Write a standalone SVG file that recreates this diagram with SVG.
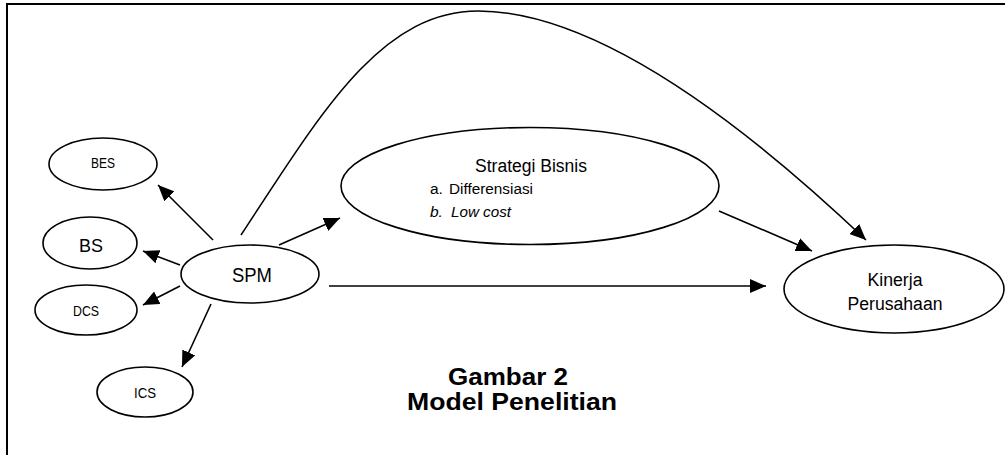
<svg xmlns="http://www.w3.org/2000/svg" width="1005" height="455" viewBox="0 0 1005 455">
<defs>
<style>
.n{fill:#fff;stroke:#000;stroke-width:1.6}
.t{font-family:"Liberation Sans",Arial,sans-serif;fill:#000;text-anchor:middle}
.c{fill:none;stroke:#000;stroke-width:1.6}
.a{marker-end:url(#ah)}
</style>
<marker id="ah" markerUnits="userSpaceOnUse" markerWidth="17" markerHeight="14" refX="16" refY="7" orient="auto" viewBox="0 0 17 14">
<path d="M0,0 L16,7 L0,14 z" fill="#000"/>
</marker>
</defs>
<rect width="1005" height="455" fill="#fff"/>
<path d="M7,455 V4 H1005" fill="none" stroke="#000" stroke-width="2"/>
<g id="connectors">
<path class="c a" d="M213,240 L158,185"/>
<path class="c a" d="M180,265 L143,251"/>
<path class="c a" d="M180,286 L143,305"/>
<path class="c a" d="M211,304 L182,367"/>
<path class="c a" d="M279,245 L340,218"/>
<path class="c a" d="M329,286 L766,286"/>
<path class="c a" d="M719,211 L812,251"/>
<path class="c a" d="M241,235 C320,115 380,11 478,11 C600,11 750,130 866,240"/>
</g>
<g id="node-bes"><ellipse class="n" cx="103" cy="164" rx="54" ry="26"/><text class="t" x="103" y="168" font-size="14" textLength="24" lengthAdjust="spacingAndGlyphs">BES</text></g>
<g id="node-bs"><ellipse class="n" cx="90" cy="243" rx="47" ry="26"/><text class="t" x="91" y="252" font-size="18.5" textLength="24" lengthAdjust="spacingAndGlyphs">BS</text></g>
<g id="node-dcs"><ellipse class="n" cx="86" cy="310" rx="51" ry="25"/><text class="t" x="86" y="316" font-size="14" textLength="26" lengthAdjust="spacingAndGlyphs">DCS</text></g>
<g id="node-ics"><ellipse class="n" cx="145" cy="392" rx="48" ry="25"/><text class="t" x="145" y="398" font-size="14" textLength="22" lengthAdjust="spacingAndGlyphs">ICS</text></g>
<g id="node-spm"><ellipse class="n" cx="250" cy="274" rx="69" ry="29"/><text class="t" x="252" y="282" font-size="20" textLength="40" lengthAdjust="spacingAndGlyphs">SPM</text></g>
<g id="node-strategi"><ellipse class="n" cx="530" cy="186" rx="189" ry="58.5"/>
<text class="t" x="531" y="172" font-size="18" textLength="112" lengthAdjust="spacingAndGlyphs">Strategi Bisnis</text>
<text font-family="'Liberation Sans',Arial,sans-serif" font-size="15.5" y="194"><tspan x="430">a.</tspan><tspan x="449" textLength="84" lengthAdjust="spacingAndGlyphs">Differensiasi</tspan></text>
<text font-family="'Liberation Sans',Arial,sans-serif" font-size="15.5" font-style="italic" y="217"><tspan x="430">b.</tspan><tspan x="451" textLength="60" lengthAdjust="spacingAndGlyphs">Low cost</tspan></text>
</g>
<g id="node-kinerja"><ellipse class="n" cx="894" cy="289" rx="110" ry="44"/>
<text class="t" x="895" y="286" font-size="18" textLength="55" lengthAdjust="spacingAndGlyphs">Kinerja</text>
<text class="t" x="895" y="310" font-size="18" textLength="95" lengthAdjust="spacingAndGlyphs">Perusahaan</text>
</g>
<g id="caption">
<text class="t" x="508" y="385" font-size="23" font-weight="bold" textLength="120" lengthAdjust="spacingAndGlyphs">Gambar 2</text>
<text class="t" x="512" y="410" font-size="23" font-weight="bold" textLength="210" lengthAdjust="spacingAndGlyphs">Model Penelitian</text>
</g>
</svg>
